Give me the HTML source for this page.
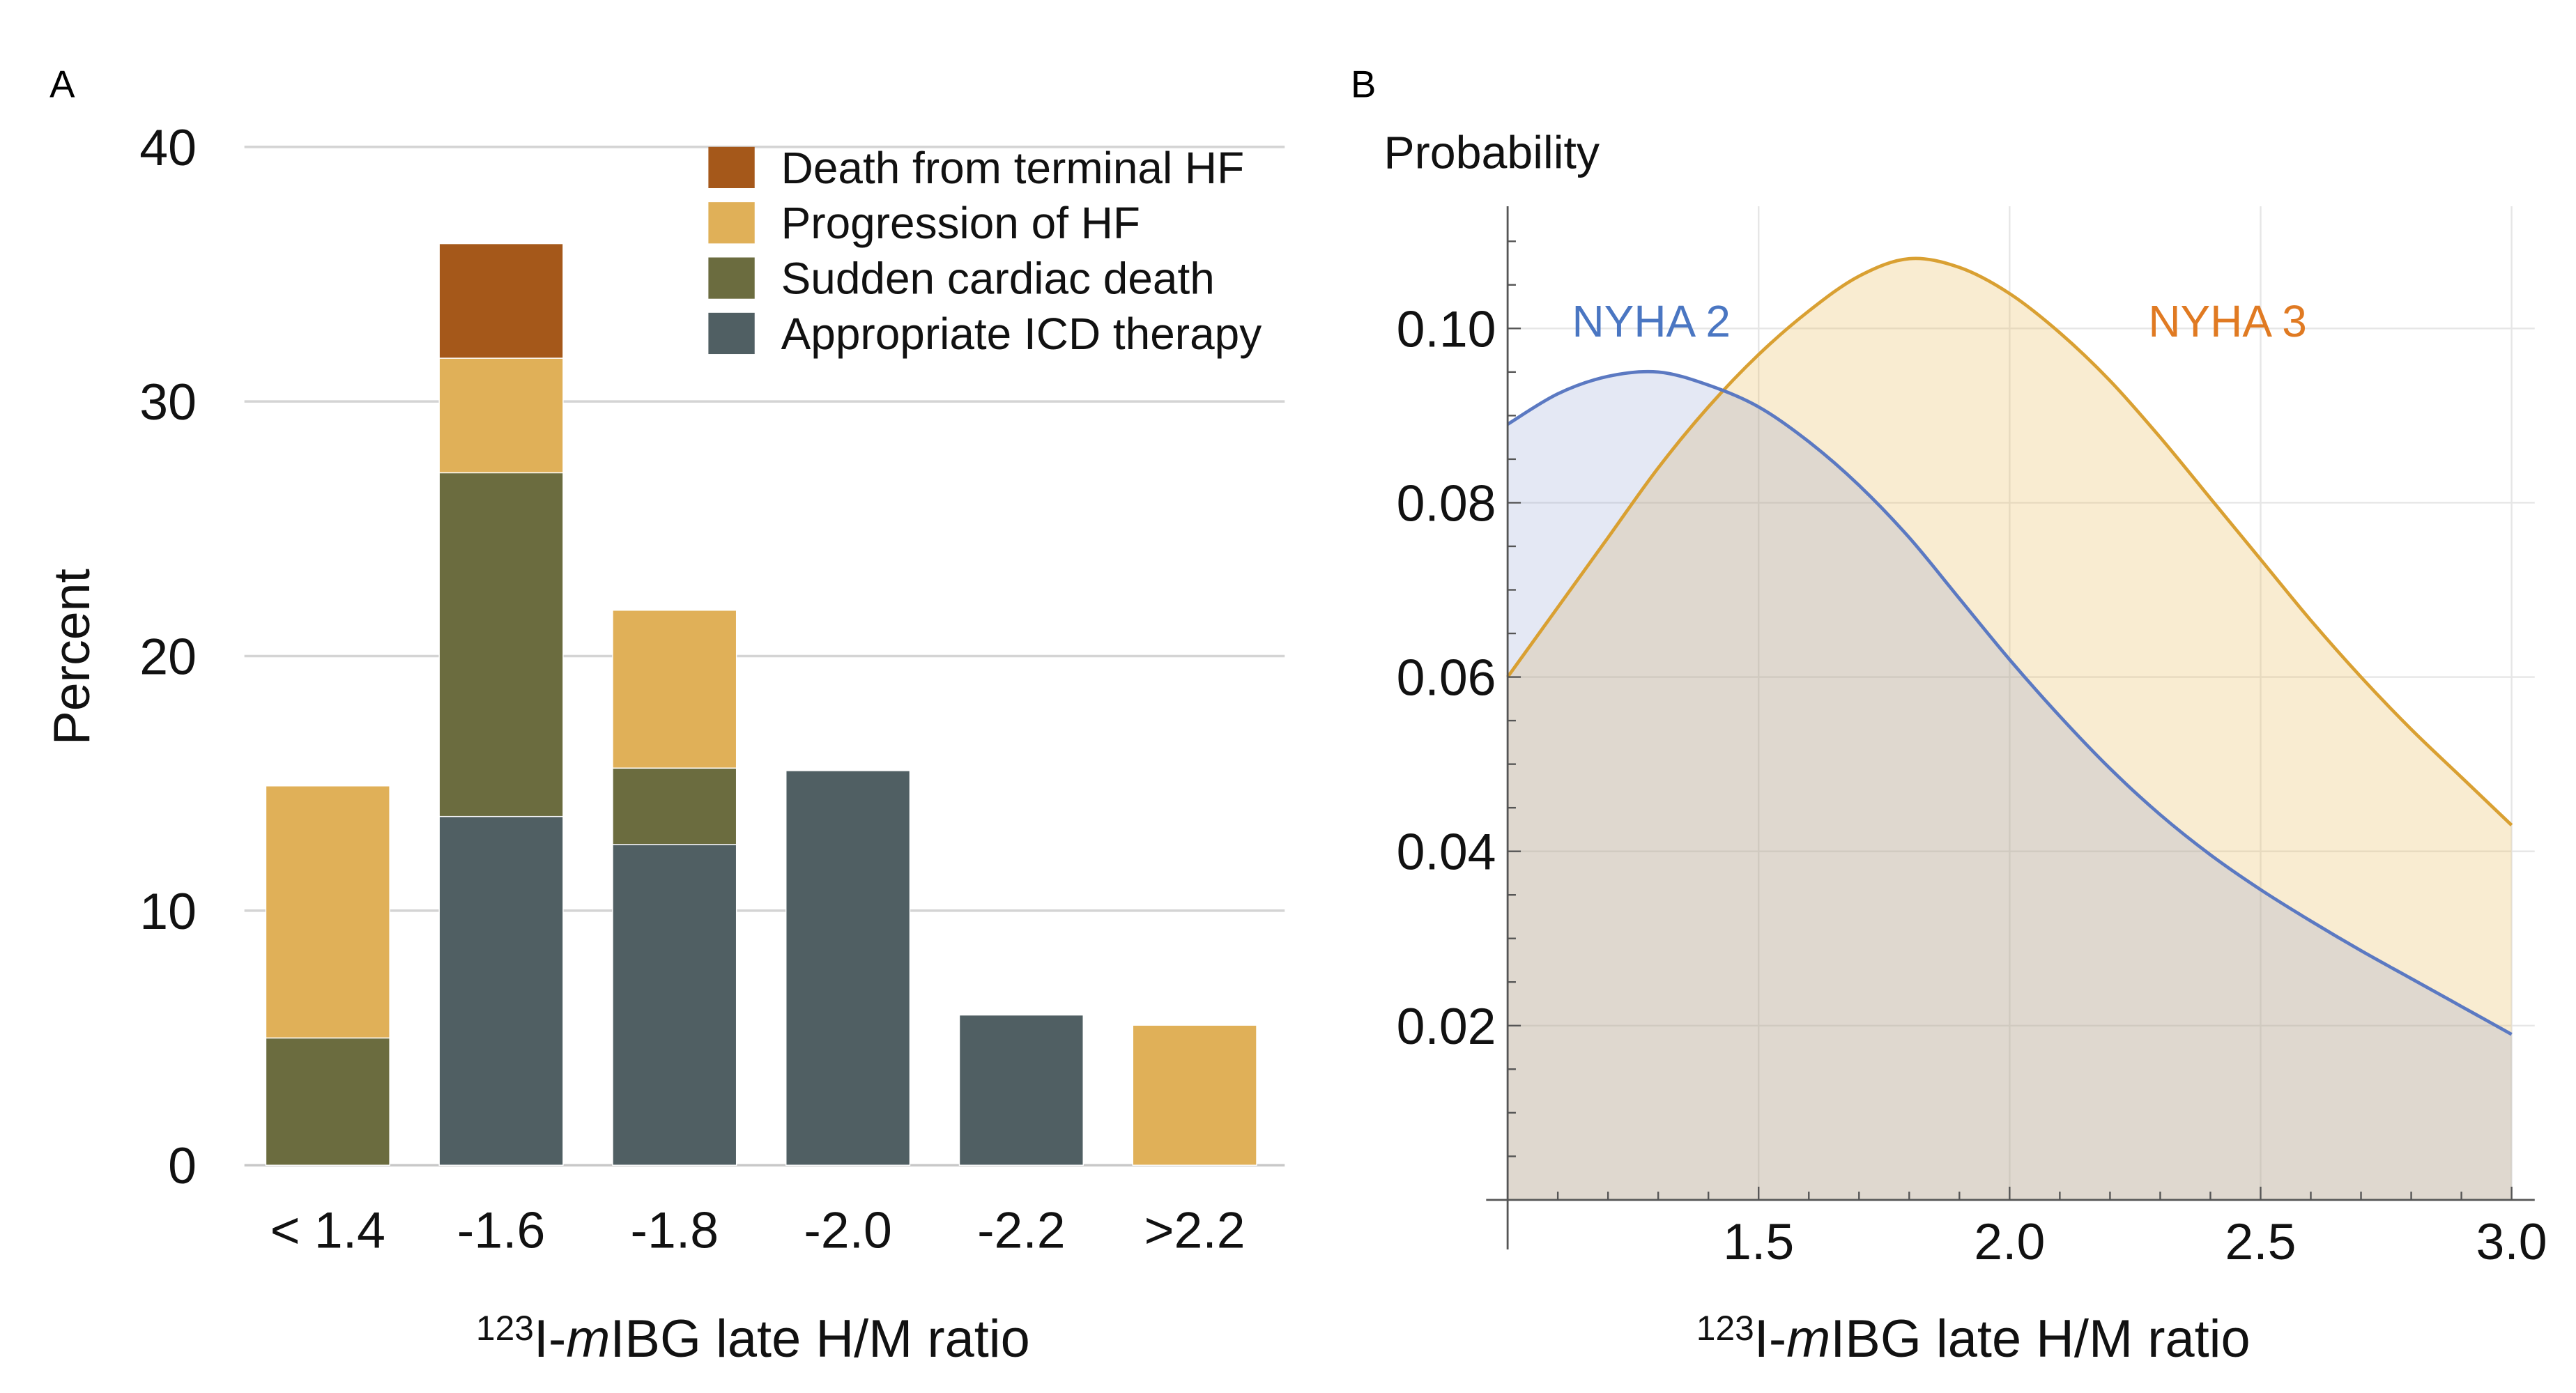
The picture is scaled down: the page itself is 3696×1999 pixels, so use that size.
<!DOCTYPE html>
<html><head><meta charset="utf-8"><style>
html,body{margin:0;padding:0;background:#fff;}
svg{display:block;font-family:"Liberation Sans",Arial,sans-serif;}
</style></head><body>
<svg id="chart" width="3696" height="1999" viewBox="0 0 1560 844" preserveAspectRatio="none" xmlns="http://www.w3.org/2000/svg">
<g id="pa"></g>
<g id="pb"></g>
</svg>
<script>
// Panel A data
const categories = ["< 1.4","-1.6","-1.8","-2.0","-2.2",">2.2"];
const icdValues = [0, 13.7, 12.6, 15.5, 5.9, 0];
const scdValues = [5.0, 13.5, 3.0, 0, 0, 0];
const progValues = [9.9, 4.5, 6.2, 0, 0, 5.5];
const deathValues = [0, 4.5, 0, 0, 0, 0];
const yTicksA = [0, 10, 20, 30, 40];
const seriesNames = ["Death from terminal HF","Progression of HF","Sudden cardiac death","Appropriate ICD therapy"];
// Panel B data
const xs = [1.0,1.1,1.2,1.3,1.4,1.5,1.6,1.7,1.8,1.9,2.0,2.1,2.2,2.3,2.4,2.5,2.6,2.7,2.8,2.9,3.0];
const nyha2 = [0.089,0.0925,0.0945,0.095,0.0935,0.091,0.087,0.082,0.076,0.069,0.062,0.0555,0.0495,0.0442,0.0396,0.0356,0.032,0.0286,0.0254,0.0222,0.019];
const nyha3 = [0.060,0.068,0.076,0.084,0.091,0.097,0.102,0.106,0.108,0.107,0.104,0.0995,0.094,0.0875,0.0805,0.0735,0.0665,0.060,0.054,0.0485,0.043];
const yTicksB = [0.02,0.04,0.06,0.08,0.10];
const xTicksB = [1.5,2.0,2.5,3.0];

const NS="http://www.w3.org/2000/svg";
function mk(parent,tag,attrs,text){const e=document.createElementNS(NS,tag);for(const k in attrs)e.setAttribute(k,attrs[k]);if(text!==undefined)e.textContent=text;parent.appendChild(e);return e;}

// ---- Panel A ----
const pa=document.getElementById('pa');
const yA=v=>706-v*(706-89)/40;
const bandX=i=>161+i*105;
const bw=75;
let t=mk(pa,'text',{x:30,y:59,'font-size':23});t.textContent='A';


yTicksA.forEach(v=>{
  const l=mk(pa,'line',{x1:148,x2:778,y1:yA(v),y2:yA(v),stroke:v===0?'#c8c8c8':'#d4d4d4','stroke-width':1.5});
  
  
  const tx=mk(pa,'text',{x:119,y:yA(v)+11,'font-size':31,'text-anchor':'end',fill:'#111'},String(v));
  
  
});
const colors={icd:'#505f63',scd:'#6b6c3f',prog:'#e0b058',death:'#a5581a'};
categories.forEach((c,i)=>{
  let base=0;
  [['icd',icdValues],['scd',scdValues],['prog',progValues],['death',deathValues]].forEach(([k,arr])=>{
    const v=arr[i]; if(v<=0)return;
    const r=mk(pa,'rect',{x:bandX(i),y:yA(base+v),width:bw,height:yA(base)-yA(base+v),fill:colors[k],stroke:'#fff','stroke-width':0.6});
    
    
    base+=v;
  });
  const tx=mk(pa,'text',{x:bandX(i)+bw/2,y:756,'font-size':31,'text-anchor':'middle',fill:'#111'},c);
  
  
});
t=mk(pa,'text',{x:0,y:0,'font-size':31,'text-anchor':'middle',transform:'translate(54,398) rotate(-90)',fill:'#111'},'Percent');


t=mk(pa,'text',{x:456,y:822,'font-size':32,'text-anchor':'middle',fill:'#111'});
t.innerHTML='<tspan font-size="21" dy="-10">123</tspan><tspan dy="10">I-</tspan><tspan font-style="italic">m</tspan><tspan>IBG late H/M ratio</tspan>';


const legCols=[colors.death,colors.prog,colors.scd,colors.icd];
seriesNames.forEach((n,i)=>{
  const y0=89+i*33.5;
  const g=mk(pa,'g',{});
  
  
  mk(g,'rect',{x:429,y:y0,width:28,height:25,fill:legCols[i]});
  mk(g,'text',{x:473,y:y0+22,'font-size':27,fill:'#111'},n);
});

// ---- Panel B ----
const pb=document.getElementById('pb');
const xB=v=>913+(v-1)*(1521-913)/2;
const yB=v=>727-v*(727-199)/0.1;
t=mk(pb,'text',{x:818,y:59,'font-size':23},'B');


t=mk(pb,'text',{x:838,y:102,'font-size':28,fill:'#111'},'Probability');


xTicksB.forEach(v=>{
  const l=mk(pb,'line',{x1:xB(v),x2:xB(v),y1:125,y2:727,stroke:'#e6e6e6','stroke-width':1});
  
  
});
yTicksB.forEach(v=>{
  const l=mk(pb,'line',{x1:913,x2:1535,y1:yB(v),y2:yB(v),stroke:'#e6e6e6','stroke-width':1});
  
  
});
function pathFor(arr){
  const P=xs.map((x,i)=>[xB(x),yB(arr[i])]);
  let d='M'+P[0][0]+','+P[0][1];
  for(let i=0;i<P.length-1;i++){
    const p0=P[Math.max(i-1,0)],p1=P[i],p2=P[i+1],p3=P[Math.min(i+2,P.length-1)];
    const c1=[p1[0]+(p2[0]-p0[0])/6,p1[1]+(p2[1]-p0[1])/6];
    const c2=[p2[0]-(p3[0]-p1[0])/6,p2[1]-(p3[1]-p1[1])/6];
    d+=' C'+c1[0]+','+c1[1]+' '+c2[0]+','+c2[1]+' '+p2[0]+','+p2[1];
  }
  return d;
}
const base0=yB(0);
[[nyha3,'rgba(232,185,90,0.28)','nyha3'],[nyha2,'rgba(120,140,200,0.2)','nyha2']].forEach(([arr,fill,nm])=>{
  const d=pathFor(arr);
  const f=mk(pb,'path',{d:d+' L'+xB(xs[xs.length-1])+','+base0+' L'+xB(xs[0])+','+base0+' Z',fill:fill,stroke:'none'});
  
  
});
[[nyha3,'#d9a032','nyha3'],[nyha2,'#5b79c2','nyha2']].forEach(([arr,stroke,nm])=>{
  const l=mk(pb,'path',{d:pathFor(arr),fill:'none',stroke:stroke,'stroke-width':2});
  
  
});
let ax=mk(pb,'line',{x1:913,x2:913,y1:125,y2:757,stroke:'#555','stroke-width':1.2});


ax=mk(pb,'line',{x1:900,x2:1535,y1:727,y2:727,stroke:'#555','stroke-width':1.2});


for(let k=1;k<=22;k++){const v=k*0.005;const maj=k%4===0;
  mk(pb,'line',{x1:913,x2:913+(maj?8:5),y1:yB(v),y2:yB(v),stroke:'#555','stroke-width':1});}
for(let k=11;k<=30;k++){const v=k/10;const maj=k%5===0;
  mk(pb,'line',{x1:xB(v),x2:xB(v),y1:727,y2:727-(maj?8:5),stroke:'#555','stroke-width':1});}
yTicksB.forEach(v=>{
  const tx=mk(pb,'text',{x:906,y:yB(v)+11,'font-size':31,'text-anchor':'end',fill:'#111'},v.toFixed(2));
  
  
});
xTicksB.forEach(v=>{
  const tx=mk(pb,'text',{x:xB(v),y:763,'font-size':31,'text-anchor':'middle',fill:'#111'},v.toFixed(1));
  
  
});
t=mk(pb,'text',{x:1000,y:204,'font-size':27,'text-anchor':'middle',fill:'#4a76c2'},'NYHA 2');


t=mk(pb,'text',{x:1349,y:204,'font-size':27,'text-anchor':'middle',fill:'#e07a22'},'NYHA 3');


t=mk(pb,'text',{x:1195,y:822,'font-size':32,'text-anchor':'middle',fill:'#111'});
t.innerHTML='<tspan font-size="21" dy="-10">123</tspan><tspan dy="10">I-</tspan><tspan font-style="italic">m</tspan><tspan>IBG late H/M ratio</tspan>';


</script>
</body></html>
